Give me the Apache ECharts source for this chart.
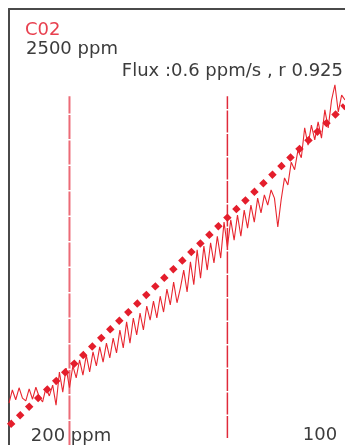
<!DOCTYPE html>
<html>
<head>
<meta charset="utf-8">
<script src="https://cdn.jsdelivr.net/npm/echarts@6/dist/echarts.min.js"></script>
<style>
  html, body { margin: 0; padding: 0; background: #fff; }
  #chart { width: 345px; height: 445px; }
</style>
</head>
<body>
<div id="chart"></div>
<script>
// CO2 trace, one reading per second (ppm)
var co2 = [
  407.7, 410.1, 408.3, 410.5, 408.6, 408.1, 410.3, 408.4, 410.6, 408.8,
  407.9, 410.5, 409.0, 411.0, 407.3, 413.4, 409.7, 414.1, 410.5, 414.5,
  412.3, 415.6, 412.8, 416.5, 413.4, 417.1, 414.5, 418.0, 415.2, 418.7,
  416.0, 419.6, 416.9, 421.1, 417.8, 422.6, 418.7, 423.3, 420.2, 424.2,
  421.1, 425.5, 422.9, 426.4, 423.3, 427.3, 424.4, 428.6, 425.7, 429.9,
  426.1, 428.8, 432.1, 428.1, 433.6, 429.4, 435.8, 430.6, 436.5, 432.1,
  437.1, 433.4, 438.3, 434.3, 440.9, 436.3, 441.3, 437.6, 442.2, 438.3,
  443.1, 439.8, 444.0, 440.9, 445.3, 442.6, 445.9, 444.0, 446.8, 445.3,
  440.0, 445.0, 449.0, 447.7, 451.9, 450.5, 454.1, 452.7, 458.2, 455.0,
  458.7, 456.0, 459.3, 456.3, 461.5, 458.2, 463.3, 466.1, 461.1, 464.2,
  463.3
];
// fitted line end points [s, ppm]
var fitLine = [[0, 403.5], [100, 462.3]];
// measurement window (s) and height of its markers (ppm)
var windowStart = 18;
var windowEnd = 65;
var windowTop = 464;
var windowEndBottom = 401.3;

var gasName = 'C02';
var rangeLabel = '2500 ppm';
var fluxLabel = 'Flux :0.6 ppm/s , r 0.925';
var bottomLabels = ['200 ppm', '100'];

var chart = echarts.init(document.getElementById('chart'));

var tracePts = [];
for (var i = 0; i < co2.length; i++) {
  tracePts.push([i, co2[i]]);
}

chart.setOption({
  animation: false,
  grid: { left: 9, top: 9, right: 0, bottom: 0 },
  xAxis: {
    type: 'value', position: 'top', min: 0, max: 100,
    axisLine: { show: true, lineStyle: { color: '#4a4a4a', width: 2 } },
    axisTick: { show: false }, axisLabel: { show: false }, splitLine: { show: false }
  },
  yAxis: {
    type: 'value', min: 400, max: 480,
    axisLine: { show: true, lineStyle: { color: '#4a4a4a', width: 2 } },
    axisTick: { show: false }, axisLabel: { show: false }, splitLine: { show: false }
  },
  graphic: [
    { type: 'text', left: 25, top: 21, style: { text: gasName, fill: '#e8404f', font: '18px "DejaVu Sans"' } },
    { type: 'text', x: 26, y: 49, style: { text: rangeLabel, fill: '#3c3c3c', font: '18px "DejaVu Sans"', verticalAlign: 'middle' } },
    { type: 'text', x: 343, y: 71, style: { text: fluxLabel, fill: '#3c3c3c', font: '18px "DejaVu Sans"', align: 'right', verticalAlign: 'middle' } },
    { type: 'text', x: 71, y: 436, style: { text: bottomLabels[0], fill: '#3c3c3c', font: '18px "DejaVu Sans"', align: 'center', verticalAlign: 'middle' } },
    { type: 'text', x: 320, y: 435, style: { text: bottomLabels[1], fill: '#3c3c3c', font: '18px "DejaVu Sans"', align: 'center', verticalAlign: 'middle' } }
  ],
  series: [
    {
      type: 'line', data: [[windowStart, 400], [windowStart, windowTop]],
      symbol: 'none', silent: true,
      lineStyle: { color: '#ec6b77', width: 2, type: [24, 1.5] }
    },
    {
      type: 'line', data: [[windowEnd, windowEndBottom], [windowEnd, windowTop]],
      symbol: 'none', silent: true,
      lineStyle: { color: '#e02a3a', width: 1.5, type: [22, 1.5] }
    },
    {
      type: 'line', data: tracePts, symbol: 'none',
      lineStyle: { color: '#e8262f', width: 1.1 }
    },
    {
      type: 'line', data: fitLine, symbol: 'none',
      lineStyle: { color: '#e41e2c', width: 6, type: [6, 6.45] }
    }
  ]
});
</script>
</body>
</html>
